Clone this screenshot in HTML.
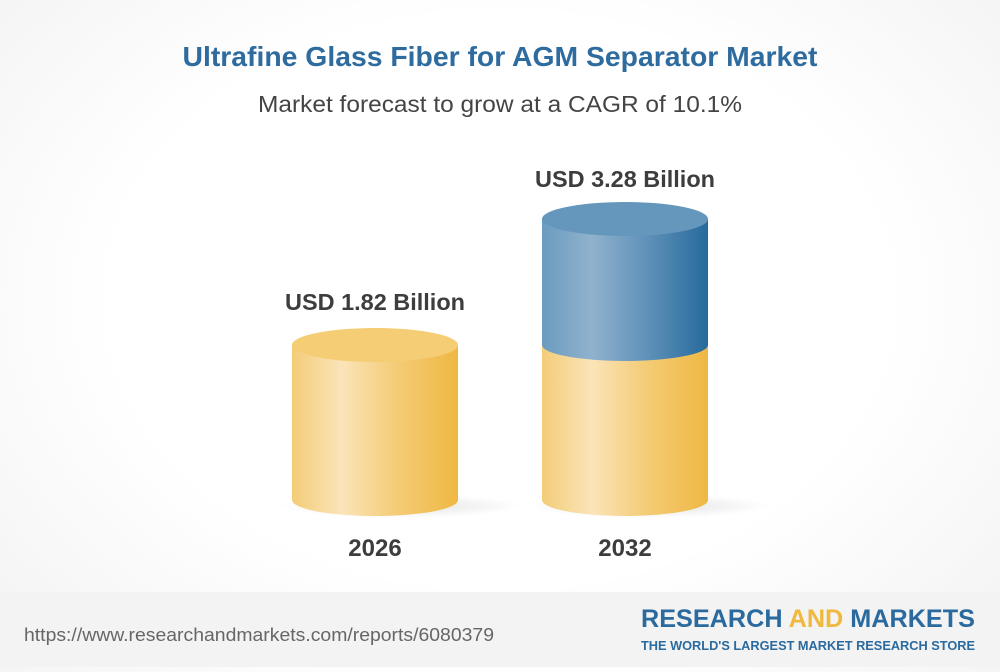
<!DOCTYPE html>
<html><head><style>
html,body{margin:0;padding:0}
body{width:1000px;height:667px;overflow:hidden;font-family:"Liberation Sans",sans-serif;background:radial-gradient(ellipse at 50% 45%,#ffffff 55%,#f2f2f2 100%);}
</style></head><body>
<svg width="1000" height="667" viewBox="0 0 1000 667" xmlns="http://www.w3.org/2000/svg">
<defs>
<linearGradient id="y" x1="0" x2="1" y1="0" y2="0">
<stop offset="0" stop-color="#f3cc78"/><stop offset="0.3" stop-color="#fae4b8"/><stop offset="0.65" stop-color="#f4ca72"/><stop offset="1" stop-color="#efb843"/></linearGradient>
<linearGradient id="b" x1="0" x2="1" y1="0" y2="0">
<stop offset="0" stop-color="#6b9bc0"/><stop offset="0.3" stop-color="#90b2cd"/><stop offset="0.65" stop-color="#5d8fb8"/><stop offset="1" stop-color="#276a9c"/></linearGradient>
<radialGradient id="sh"><stop offset="0" stop-color="#000" stop-opacity="0.12"/><stop offset="1" stop-color="#000" stop-opacity="0"/></radialGradient>
</defs>
<rect x="0" y="592" width="1000" height="75" fill="#f3f3f3"/>
<text x="500" y="66" text-anchor="middle" font-size="28" font-weight="bold" fill="#2e6b9e" textLength="635" lengthAdjust="spacingAndGlyphs">Ultrafine Glass Fiber for AGM Separator Market</text>
<text x="500" y="112" text-anchor="middle" font-size="23" fill="#444" textLength="484" lengthAdjust="spacingAndGlyphs">Market forecast to grow at a CAGR of 10.1%</text>
<ellipse cx="400" cy="506" rx="120" ry="12" fill="url(#sh)"/>
<ellipse cx="650" cy="506" rx="120" ry="12" fill="url(#sh)"/>
<path d="M292 345 V500 A83 16 0 0 0 458 500 V345 Z" fill="url(#y)"/>
<ellipse cx="375" cy="345" rx="83" ry="17" fill="#f5cd75"/>
<path d="M542 345 V500 A83 16 0 0 0 708 500 V345 Z" fill="url(#y)"/>
<path d="M542 219 V345 A83 16 0 0 0 708 345 V219 Z" fill="url(#b)"/>
<ellipse cx="625" cy="219" rx="83" ry="17" fill="#6597bd"/>
<text x="375" y="310" text-anchor="middle" font-size="23" font-weight="bold" fill="#3d3d3d" textLength="180" lengthAdjust="spacingAndGlyphs">USD 1.82 Billion</text>
<text x="625" y="187" text-anchor="middle" font-size="23" font-weight="bold" fill="#3d3d3d" textLength="180" lengthAdjust="spacingAndGlyphs">USD 3.28 Billion</text>
<text x="375" y="556" text-anchor="middle" font-size="24" font-weight="bold" fill="#3d3d3d">2026</text>
<text x="625" y="556" text-anchor="middle" font-size="24" font-weight="bold" fill="#3d3d3d">2032</text>
<text x="24" y="641" font-size="18" fill="#666" textLength="470" lengthAdjust="spacingAndGlyphs">https://www.researchandmarkets.com/reports/6080379</text>
<text x="808" y="627" text-anchor="middle" font-size="25" font-weight="bold" fill="#2a6a9e" textLength="334" lengthAdjust="spacingAndGlyphs">RESEARCH <tspan fill="#f0b83c">AND</tspan> MARKETS</text>
<text x="808" y="650" text-anchor="middle" font-size="13" font-weight="bold" fill="#2a6a9e" textLength="334" lengthAdjust="spacingAndGlyphs">THE WORLD'S LARGEST MARKET RESEARCH STORE</text>
</svg>
</body></html>
